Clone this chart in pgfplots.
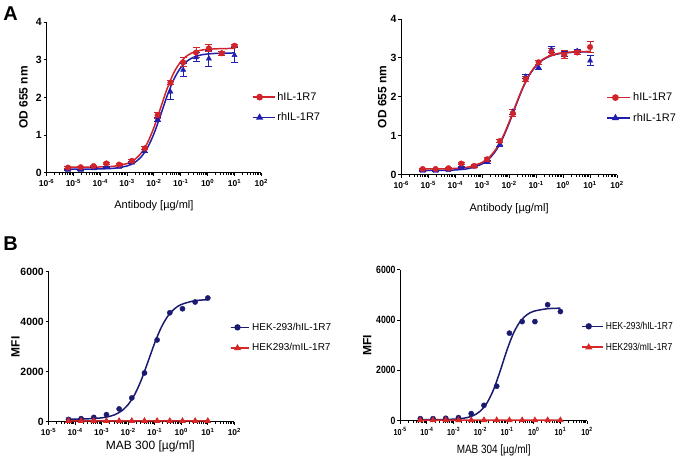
\documentclass[border=0pt]{standalone}
\usepackage{fontspec}
\setmainfont{Liberation Sans}
\newfontfamily\narrow[FakeStretch=0.83]{Liberation Sans}
\usepackage{pgfplots}
\pgfplotsset{compat=1.18}

\definecolor{redA}{RGB}{208,36,42}
\definecolor{blueA}{RGB}{32,30,172}
\definecolor{navyB}{RGB}{26,26,112}
\definecolor{redB}{RGB}{214,40,40}

\pgfplotsset{
  every axis/.append style={
    scale only axis, axis lines=left,
    axis line style={-, line width=1.1pt},
    tick align=outside, major tick length=3pt, minor tick length=2pt,
    tick style={black, line width=0.9pt},
    xticklabel style={font=\fontsize{8.5}{10}\selectfont\bfseries},
    yticklabel style={font=\fontsize{10.5}{12}\selectfont\bfseries, inner xsep=1.5pt},
    xlabel style={font=\fontsize{11}{13}\selectfont, anchor=center},
    ylabel style={font=\fontsize{12}{14}\selectfont\bfseries, anchor=center},
    legend cell align=left,
    legend style={draw=none, fill=none, font=\fontsize{11}{13}\selectfont,
      anchor=west, row sep=7pt},
    clip=false,
  },
  /pgf/number format/assume math mode=true,
  /pgf/number format/1000 sep={},
}

\begin{document}
\begin{tikzpicture}
\path (0pt,0pt) rectangle (688pt,462pt);

\node[font=\fontsize{20}{20}\selectfont\bfseries] at (10pt,448pt) {A};
\node[font=\fontsize{20}{20}\selectfont\bfseries] at (10pt,218pt) {B};

% ---------- A, left ----------
\begin{axis}[at={(46pt,289pt)}, anchor=south west,
  width=215pt, height=151pt, xmode=log,
  xmin=1e-6, xmax=1e2, ymin=0, ymax=4, ytick={0,1,2,3,4},
  xtick={1e-6,1e-5,1e-4,1e-3,1e-2,1e-1,1,1e1,1e2},
  xticklabels={10\textsuperscript{-6},10\textsuperscript{-5},10\textsuperscript{-4},
    10\textsuperscript{-3},10\textsuperscript{-2},10\textsuperscript{-1},
    10\textsuperscript{0},10\textsuperscript{1},10\textsuperscript{2}},
  xlabel={Antibody [µg/ml]}, ylabel={OD 655 nm},
  xlabel style={at={(axis description cs:0.5,-0.219)}},
  ylabel style={at={(axis description cs:-0.107,0.5)}},
  legend image code/.code={\draw[mark repeat=2, mark phase=2, #1]
    plot coordinates {(0pt,0pt) (7pt,0pt) (14pt,0pt)};
    \path (0pt,0pt) -- (22pt,0pt);},
  legend style={at={(axis description cs:0.941,0.434)}}]
\addplot[smooth, no marks, line width=1.5pt, forget plot, blueA] coordinates {
  (6.31e-6,0.100) (3.162e-5,0.101) (1e-4,0.105) (3.162e-4,0.121) (1e-3,0.183)
  (1.778e-3,0.260) (3.162e-3,0.404) (5.623e-3,0.653) (1e-2,1.036) (1.778e-2,1.534)
  (3.162e-2,2.056) (5.623e-2,2.491) (0.1,2.791) (0.1778,2.972) (0.3162,3.072)
  (0.5623,3.125) (1,3.152) (3.162,3.173) (10,3.178)};
\addplot[smooth, no marks, line width=1.5pt, forget plot, redA] coordinates {
  (6.31e-6,0.150) (3.162e-5,0.152) (1e-4,0.156) (3.162e-4,0.175) (1e-3,0.247)
  (1.778e-3,0.337) (3.162e-3,0.502) (5.623e-3,0.783) (1e-2,1.202) (1.778e-2,1.725)
  (3.162e-2,2.248) (5.623e-2,2.667) (0.1,2.948) (0.1778,3.113) (0.3162,3.204)
  (0.5623,3.251) (1,3.275) (3.162,3.294) (10,3.298)};
\addplot[only marks, forget plot, blueA, mark=triangle*, mark size=3pt,
  error bars/.cd, y dir=both, y explicit,
  error mark options={rotate=90, mark size=3.5pt, line width=1pt},
  error bar style={line width=1pt}] coordinates {
  (6.27e-6,0.08) +- (0,0.02) (1.88e-5,0.08) +- (0,0.02) (5.65e-5,0.12) +- (0,0.02)
  (1.69e-4,0.15) +- (0,0.02) (5.08e-4,0.16) +- (0,0.03) (1.52e-3,0.27) +- (0,0.03)
  (4.57e-3,0.58) +- (0,0.05) (1.37e-2,1.42) +- (0,0.05) (4.12e-2,2.15) +- (0,0.20)
  (0.123,2.73) +- (0,0.18) (0.370,3.06) +- (0,0.12) (1.11,3.03) +- (0,0.22)
  (3.33,3.17) +- (0,0.05) (10,3.12) +- (0,0.20)};
\addplot[only marks, forget plot, redA, mark=*, mark size=2.8pt,
  error bars/.cd, y dir=both, y explicit,
  error mark options={rotate=90, mark size=3.5pt, line width=1pt},
  error bar style={line width=1pt}] coordinates {
  (6.27e-6,0.14) +- (0,0.02) (1.88e-5,0.15) +- (0,0.02) (5.65e-5,0.18) +- (0,0.02)
  (1.69e-4,0.25) +- (0,0.03) (5.08e-4,0.22) +- (0,0.03) (1.52e-3,0.32) +- (0,0.04)
  (4.57e-3,0.65) +- (0,0.04) (1.37e-2,1.53) +- (0,0.08) (4.12e-2,2.39) +- (0,0.06)
  (0.123,2.93) +- (0,0.12) (0.370,3.19) +- (0,0.14) (1.11,3.30) +- (0,0.09)
  (3.33,3.17) +- (0,0.05) (10,3.37) +- (0,0.03)};
\addlegendimage{redA, line width=1.5pt, mark=*, mark size=2.6pt}
\addlegendentry{hIL-1R7}
\addlegendimage{blueA, line width=1.5pt, mark=triangle*, mark size=2.8pt}
\addlegendentry{rhIL-1R7}
\end{axis}

% ---------- A, right ----------
\begin{axis}[at={(401pt,287pt)}, anchor=south west,
  width=216pt, height=156pt, xmode=log,
  xmin=1e-6, xmax=1e2, ymin=0, ymax=4, ytick={0,1,2,3,4},
  xtick={1e-6,1e-5,1e-4,1e-3,1e-2,1e-1,1,1e1,1e2},
  xticklabels={10\textsuperscript{-6},10\textsuperscript{-5},10\textsuperscript{-4},
    10\textsuperscript{-3},10\textsuperscript{-2},10\textsuperscript{-1},
    10\textsuperscript{0},10\textsuperscript{1},10\textsuperscript{2}},
  xlabel={Antibody [µg/ml]}, ylabel={OD 655 nm},
  xlabel style={at={(axis description cs:0.5,-0.218)}},
  ylabel style={at={(axis description cs:-0.088,0.5)}},
  legend image code/.code={\draw[mark repeat=2, mark phase=2, #1]
    plot coordinates {(0pt,0pt) (8pt,0pt) (16pt,0pt)};
    \path (0pt,0pt) -- (23pt,0pt);},
  legend style={at={(axis description cs:0.937,0.43)}}]
\addplot[smooth, no marks, line width=1.5pt, forget plot, blueA] coordinates {
  (6.31e-6,0.111) (3.162e-5,0.115) (1e-4,0.126) (3.162e-4,0.163) (1e-3,0.280)
  (1.778e-3,0.408) (3.162e-3,0.614) (5.623e-3,0.921) (1e-2,1.326) (1.778e-2,1.781)
  (3.162e-2,2.215) (5.623e-2,2.558) (0.1,2.799) (0.1778,2.951) (0.3162,3.042)
  (0.5623,3.094) (1,3.124) (3.162,3.149) (10,3.157)};
\addplot[smooth, no marks, line width=1.5pt, forget plot, redA] coordinates {
  (6.31e-6,0.151) (3.162e-5,0.155) (1e-4,0.166) (3.162e-4,0.202) (1e-3,0.319)
  (1.778e-3,0.445) (3.162e-3,0.649) (5.623e-3,0.953) (1e-2,1.354) (1.778e-2,1.805)
  (3.162e-2,2.233) (5.623e-2,2.574) (0.1,2.812) (0.1778,2.963) (0.3162,3.053)
  (0.5623,3.105) (1,3.134) (3.162,3.159) (10,3.167)};
\addplot[only marks, forget plot, blueA, mark=triangle*, mark size=3pt,
  error bars/.cd, y dir=both, y explicit,
  error mark options={rotate=90, mark size=3.5pt, line width=1pt},
  error bar style={line width=1pt}] coordinates {
  (6.27e-6,0.10) +- (0,0.02) (1.88e-5,0.10) +- (0,0.02) (5.65e-5,0.12) +- (0,0.02)
  (1.69e-4,0.20) +- (0,0.02) (5.08e-4,0.21) +- (0,0.03) (1.52e-3,0.34) +- (0,0.04)
  (4.57e-3,0.79) +- (0,0.05) (1.37e-2,1.62) +- (0,0.06) (4.12e-2,2.52) +- (0,0.05)
  (0.123,2.76) +- (0,0.06) (0.370,3.22) +- (0,0.08) (1.11,3.10) +- (0,0.06)
  (3.33,3.18) +- (0,0.04) (10,2.93) +- (0,0.12)};
\addplot[only marks, forget plot, redA, mark=*, mark size=2.8pt,
  error bars/.cd, y dir=both, y explicit,
  error mark options={rotate=90, mark size=3.5pt, line width=1pt},
  error bar style={line width=1pt}] coordinates {
  (6.27e-6,0.15) +- (0,0.02) (1.88e-5,0.15) +- (0,0.02) (5.65e-5,0.17) +- (0,0.03)
  (1.69e-4,0.29) +- (0,0.03) (5.08e-4,0.23) +- (0,0.03) (1.52e-3,0.40) +- (0,0.05)
  (4.57e-3,0.87) +- (0,0.05) (1.37e-2,1.58) +- (0,0.09) (4.12e-2,2.46) +- (0,0.06)
  (0.123,2.89) +- (0,0.05) (0.370,3.15) +- (0,0.10) (1.11,3.08) +- (0,0.10)
  (3.33,3.14) +- (0,0.04) (10,3.28) +- (0,0.14)};
\addlegendimage{redA, line width=1.5pt, mark=*, mark size=2.6pt}
\addlegendentry{hIL-1R7}
\addlegendimage{blueA, line width=1.5pt, mark=triangle*, mark size=2.8pt}
\addlegendentry{rhIL-1R7}
\end{axis}

% ---------- B, left ----------
\begin{axis}[at={(48pt,40pt)}, anchor=south west,
  width=186pt, height=150pt, xmode=log,
  xmin=1e-5, xmax=1e2, ymin=0, ymax=6000, ytick={0,2000,4000,6000},
  scaled y ticks=false,
  xtick={1e-5,1e-4,1e-3,1e-2,1e-1,1,1e1,1e2},
  xticklabels={10\textsuperscript{-5},10\textsuperscript{-4},
    10\textsuperscript{-3},10\textsuperscript{-2},10\textsuperscript{-1},
    10\textsuperscript{0},10\textsuperscript{1},10\textsuperscript{2}},
  xticklabel style={font=\fontsize{8.4}{10}\selectfont\bfseries},
  yticklabel style={font=\fontsize{10.5}{12}\selectfont\bfseries},
  xlabel={MAB 300 [µg/ml]}, ylabel={MFI},
  xlabel style={font=\fontsize{12}{14}\selectfont,
    at={(axis description cs:0.548,-0.167)}},
  ylabel style={at={(axis description cs:-0.177,0.5)}},
  legend image code/.code={\draw[mark repeat=2, mark phase=2, #1]
    plot coordinates {(0pt,0pt) (7pt,0pt) (14pt,0pt)};
    \path (0pt,0pt) -- (19pt,0pt);},
  legend style={at={(axis description cs:0.958,0.56)},
    font=\fontsize{10}{12}\selectfont, row sep=8pt}]
\addplot[smooth, no marks, line width=1.5pt, forget plot, navyB] coordinates {
  (5.623e-5,102) (1e-4,104) (3.162e-4,115) (1e-3,152) (1.778e-3,198)
  (3.162e-3,280) (5.623e-3,429) (1e-2,685) (1.778e-2,1094) (3.162e-2,1683)
  (5.623e-2,2409) (0.1,3151) (0.1778,3781) (0.3162,4233) (0.5623,4521)
  (1,4691) (3.162,4839) (10,4883)};
\addplot[only marks, forget plot, navyB, mark=*, mark size=2.6pt] coordinates {
  (5.65e-5,90) (1.69e-4,120) (5.08e-4,170) (1.52e-3,280) (4.57e-3,510)
  (1.37e-2,950) (4.12e-2,1950) (0.123,3270) (0.370,4360) (1.11,4520)
  (3.33,4790) (10,4950)};
\addplot[forget plot, redB, line width=1.5pt, mark=triangle*, mark size=2.4pt] coordinates {
  (5.65e-5,30) (1.69e-4,30) (5.08e-4,32) (1.52e-3,30) (4.57e-3,28)
  (1.37e-2,30) (4.12e-2,32) (0.123,30) (0.370,30) (1.11,28)
  (3.33,30) (10,30)};
\addlegendimage{navyB, line width=1.5pt, mark=*, mark size=2.4pt}
\addlegendentry{HEK-293/hIL-1R7}
\addlegendimage{redB, line width=1.5pt, mark=triangle*, mark size=2.6pt}
\addlegendentry{HEK293/mIL-1R7}
\end{axis}

% ---------- B, right (narrower type in the reference) ----------
\begin{axis}[at={(400pt,41pt)}, anchor=south west,
  width=187pt, height=151pt, xmode=log,
  xmin=1e-5, xmax=1e2, ymin=0, ymax=6000, ytick={0,2000,4000,6000},
  scaled y ticks=false,
  xtick={1e-5,1e-4,1e-3,1e-2,1e-1,1,1e1,1e2},
  xticklabels={10\textsuperscript{-5},10\textsuperscript{-4},
    10\textsuperscript{-3},10\textsuperscript{-2},10\textsuperscript{-1},
    10\textsuperscript{0},10\textsuperscript{1},10\textsuperscript{2}},
  xticklabel style={font=\narrow\fontsize{8.7}{10}\selectfont\bfseries},
  yticklabel style={font=\narrow\fontsize{10.5}{12}\selectfont\bfseries},
  xlabel={MAB 304 [µg/ml]}, ylabel={MFI},
  xlabel style={font=\narrow\fontsize{12}{14}\selectfont,
    at={(axis description cs:0.5,-0.2)}},
  ylabel style={at={(axis description cs:-0.176,0.5)}},
  legend image code/.code={\draw[mark repeat=2, mark phase=2, #1]
    plot coordinates {(0pt,0pt) (6.5pt,0pt) (13pt,0pt)};
    \path (0pt,0pt) -- (21pt,0pt);},
  legend style={at={(axis description cs:0.953,0.556)},
    font=\narrow\fontsize{10.2}{12}\selectfont, row sep=8pt}]
\addplot[smooth, no marks, line width=1.5pt, forget plot, navyB] coordinates {
  (5.623e-5,40) (1e-4,41) (3.162e-4,44) (1e-3,59) (1.778e-3,79)
  (3.162e-3,121) (5.623e-3,208) (1e-2,381) (1.778e-2,705) (3.162e-2,1245)
  (5.623e-2,1996) (0.1,2813) (0.1778,3497) (0.3162,3953) (0.5623,4214)
  (1,4350) (3.162,4450) (10,4473)};
\addplot[only marks, forget plot, navyB, mark=*, mark size=2.6pt] coordinates {
  (5.65e-5,80) (1.69e-4,80) (5.08e-4,95) (1.52e-3,120) (4.57e-3,280)
  (1.37e-2,610) (4.12e-2,1370) (0.123,3480) (0.370,3940) (1.11,3940)
  (3.33,4610) (10,4340)};
\addplot[forget plot, redB, line width=1.5pt, mark=triangle*, mark size=2.4pt] coordinates {
  (5.65e-5,20) (1.69e-4,20) (5.08e-4,22) (1.52e-3,20) (4.57e-3,18)
  (1.37e-2,20) (4.12e-2,22) (0.123,20) (0.370,20) (1.11,18)
  (3.33,20) (10,20)};
\addlegendimage{navyB, line width=1.5pt, mark=*, mark size=2.4pt}
\addlegendentry{HEK-293/hIL-1R7}
\addlegendimage{redB, line width=1.5pt, mark=triangle*, mark size=2.6pt}
\addlegendentry{HEK293/mIL-1R7}
\end{axis}
\end{tikzpicture}
\end{document}
